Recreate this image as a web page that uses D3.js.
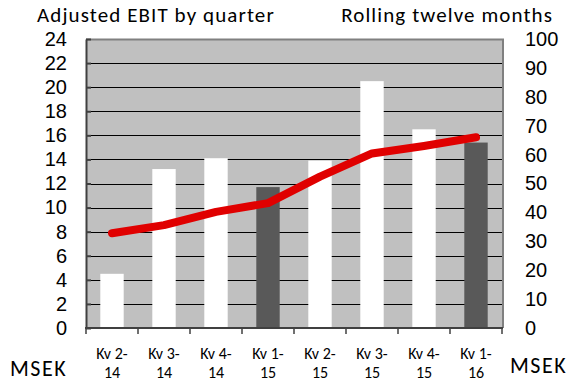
<!DOCTYPE html>
<html>
<head>
<meta charset="utf-8">
<script src="https://cdn.jsdelivr.net/npm/d3@7"></script>
<style>
  body { margin: 0; background: #fff; }
  svg { display: block; font-family: Carlito, Lato, sans-serif; }
</style>
</head>
<body>
<div id="chart"></div>
<script>
const quarters = ["Kv 2-14", "Kv 3-14", "Kv 4-14", "Kv 1-15", "Kv 2-15", "Kv 3-15", "Kv 4-15", "Kv 1-16"];
const ebit = [4.5, 13.2, 14.1, 11.7, 13.9, 20.5, 16.5, 15.4];
const rolling = [32.8, 35.6, 40.2, 43.2, 52.4, 60.4, 63, 66];
const leftTicks = d3.range(0, 25, 2);
const rightTicks = d3.range(0, 101, 10);

const width = 575, height = 383;
const m = { left: 86, right: 502, top: 39, bottom: 328 };
const fs = 20;

const svg = d3.select("#chart").append("svg")
  .attr("width", width)
  .attr("height", height);

const x = d3.scaleBand().domain(quarters).range([m.left, m.right])
  .paddingInner(0.55).paddingOuter(0.275);
const y = d3.scaleLinear().domain([0, 24]).range([m.bottom, m.top]);
const y2 = d3.scaleLinear().domain([0, 100]).range([m.bottom, m.top]);

// plot background
svg.append("rect")
  .attr("x", m.left).attr("y", m.top)
  .attr("width", m.right - m.left).attr("height", m.bottom - m.top)
  .attr("fill", "#c0c0c0");

// gridlines
svg.append("g").selectAll("line")
  .data(leftTicks.filter(d => d > 0 && d < 24))
  .join("line")
  .attr("x1", m.left).attr("x2", m.right)
  .attr("y1", d => Math.round(y(d)) + 0.5).attr("y2", d => Math.round(y(d)) + 0.5)
  .attr("stroke", "#000").attr("stroke-width", 1);

// border (top + right)
svg.append("path")
  .attr("d", `M${m.left},${m.top + 0.5}H${m.right + 1}V${m.bottom}`)
  .attr("fill", "none").attr("stroke", "#808080").attr("stroke-width", 2);

// bars
svg.append("g").selectAll("rect")
  .data(quarters)
  .join("rect")
  .attr("x", d => x(d))
  .attr("width", x.bandwidth())
  .attr("y", (d, i) => y(ebit[i]))
  .attr("height", (d, i) => y(0) - y(ebit[i]))
  .attr("fill", d => d.startsWith("Kv 1-") ? "#595959" : "#ffffff");

// left axis
const gl = svg.append("g").attr("transform", `translate(${m.left},0)`)
  .call(d3.axisLeft(y).tickValues(leftTicks).tickSize(-5).tickPadding(19).tickSizeOuter(0));
gl.select(".domain").attr("stroke", "#404040").attr("stroke-width", 2);
gl.selectAll(".tick line").attr("stroke", "#404040").attr("stroke-width", 2);
gl.selectAll("text").attr("font-size", fs).attr("fill", "#000").attr("font-family", null);

// right axis (labels only)
const gr = svg.append("g").attr("transform", `translate(${m.right},0)`)
  .call(d3.axisRight(y2).tickValues(rightTicks).tickSize(0).tickPadding(23));
gr.select(".domain").remove();
gr.selectAll("text").attr("font-size", fs).attr("fill", "#000").attr("font-family", null);

// bottom axis
const gb = svg.append("g").attr("transform", `translate(0,${m.bottom})`);
gb.append("line")
  .attr("x1", m.left - 1).attr("x2", m.right + 1)
  .attr("stroke", "#404040").attr("stroke-width", 2);
gb.selectAll(".tk")
  .data(d3.range(quarters.length + 1))
  .join("line")
  .attr("x1", i => m.left + i * x.step()).attr("x2", i => m.left + i * x.step())
  .attr("y1", 0).attr("y2", 6)
  .attr("stroke", "#404040").attr("stroke-width", 1.5);
gb.selectAll("text")
  .data(quarters)
  .join("text")
  .attr("text-anchor", "middle")
  .attr("font-size", 16)
  .attr("transform", d => `translate(${x(d) + x.bandwidth() / 2},0)`)
  .selectAll("tspan")
  .data(d => d.split(/(?<=-)/))
  .join("tspan")
  .attr("x", 0)
  .attr("y", (d, i) => 31 + i * 19)
  .text(d => d);

// rolling line
svg.append("path")
  .datum(rolling)
  .attr("fill", "none")
  .attr("stroke", "#e00000")
  .attr("stroke-width", 8)
  .attr("stroke-linecap", "round")
  .attr("stroke-linejoin", "round")
  .attr("d", d3.line().x((d, i) => x(quarters[i]) + x.bandwidth() / 2).y(d => y2(d)));

// titles
svg.append("text").attr("x", 37).attr("y", 22).attr("font-size", 21).attr("letter-spacing", 1.1)
  .text("Adjusted EBIT by quarter");
svg.append("text").attr("x", 553).attr("y", 22).attr("font-size", 21).attr("letter-spacing", 1.1)
  .attr("text-anchor", "end")
  .text("Rolling twelve months");
svg.append("text").attr("x", 10).attr("y", 376).attr("font-size", 22).attr("letter-spacing", 1.5)
  .text("MSEK");
svg.append("text").attr("x", 510).attr("y", 373).attr("font-size", 22).attr("letter-spacing", 1.5)
  .text("MSEK");
</script>
</body>
</html>
